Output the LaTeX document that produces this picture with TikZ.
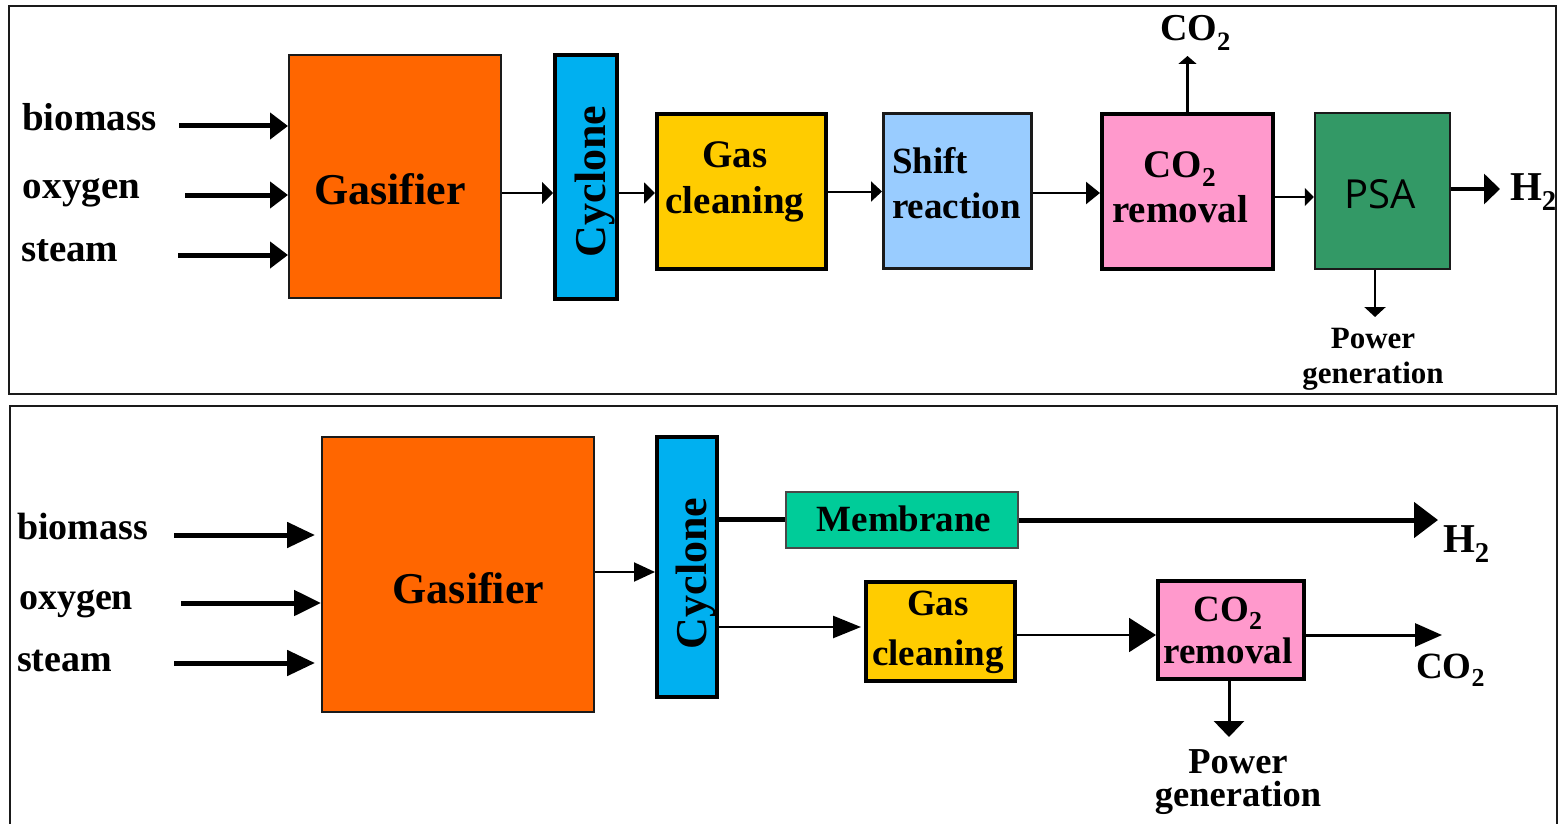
\documentclass[tikz,border=0pt]{standalone}
\usepackage{fontspec}
\setmainfont{Liberation Serif}
\newfontfamily\psafont{Open Sans}
\usetikzlibrary{arrows.meta}

\definecolor{gasorange}{HTML}{FF6600}
\definecolor{cycblue}{HTML}{00B0F0}
\definecolor{cleanyellow}{HTML}{FFCC00}
\definecolor{shiftblue}{HTML}{99CCFF}
\definecolor{co2pink}{HTML}{FF99CC}
\definecolor{psagreen}{HTML}{339966}
\definecolor{memgreen}{HTML}{00CC99}
\definecolor{edge}{HTML}{1A1A1A}

\newcommand\fsz[2]{\fontsize{#1}{#2}\selectfont}

\begin{document}
\begin{tikzpicture}[x=1pt,y=-1pt,
  frame/.style={draw=edge, line width=2pt},
  block/.style={rectangle, draw=#1, inner sep=0pt},
  txt/.style={inner sep=0pt, outer sep=0pt, text=black},
  arr/.style n args={3}{draw=black, line width=#1, -{Triangle[length=#2, width=#3]}},
  plain/.style={draw=black, line width=#1}
]
\useasboundingbox (0,0) rectangle (1560,824);

% ---------- panel frames ----------
\draw[frame] (9,6) rectangle (1556,394);
\draw[frame] (10,830) -- (10,406) -- (1557,406) -- (1557,830);

% ================= upper process chain =================
\node[block=edge, line width=2pt, fill=gasorange, minimum width=212pt, minimum height=243pt] (gas1) at (395,176.5) {};
\node[block=black, line width=4pt, fill=cycblue, minimum width=62pt, minimum height=244pt] (cyc1) at (586,177) {};
\node[block=black, line width=4pt, fill=cleanyellow, minimum width=169pt, minimum height=155pt] (gc1) at (741.5,191.5) {};
\node[block=edge, line width=3pt, fill=shiftblue, minimum width=148pt, minimum height=155pt] (sh1) at (957.5,191) {};
\node[block=black, line width=4pt, fill=co2pink, minimum width=171pt, minimum height=155pt] (co2r1) at (1187.5,191.5) {};
\node[block=edge, line width=2.5pt, fill=psagreen, minimum width=135pt, minimum height=156pt] (psa) at (1382.5,191) {};

% block captions (multi-line captions are anchored on their last baseline)
\node[txt, font=\fsz{44}{48}\bfseries, anchor=base] (tgas1) at (390,204) {Gasifier};
\node[txt, font=\fsz{44}{48}\bfseries, rotate=90, anchor=base] (tcyc1) at (605,181.5) {Cyclone};
\node[txt, font=\fsz{39}{46}\bfseries, align=center, anchor=base] (tgc1) at (735,213) {Gas\\cleaning};
\node[txt, font=\fsz{37}{45}\bfseries, align=left, anchor=base west] (tsh1) at (892,218) {Shift\\reaction};
\node[txt, font=\fsz{39}{45}\bfseries, align=center, anchor=base] (tco2r1) at (1180,222) {CO\textsubscript{2}\\removal};
\node[txt, font=\fsz{40}{44}\psafont, text=black, anchor=base] (tpsa) at (1380,208) {PSA};

% feed labels
\node[txt, font=\fsz{39}{46}\bfseries, anchor=base west] (bio1) at (22,131) {biomass};
\node[txt, font=\fsz{39}{46}\bfseries, anchor=base west] (oxy1) at (23,198) {oxygen};
\node[txt, font=\fsz{39}{46}\bfseries, anchor=base west] (stm1) at (21,261) {steam};

% feed arrows
\coordinate (bio1s) at (179,126);
\coordinate (oxy1s) at (185,195);
\coordinate (stm1s) at (178,255);
\draw[arr={5pt}{18pt}{26pt}] (bio1s) -- (bio1s -| gas1.west);
\draw[arr={5pt}{18pt}{26pt}] (oxy1s) -- (oxy1s -| gas1.west);
\draw[arr={5pt}{18pt}{26pt}] (stm1s) -- (stm1s -| gas1.west);

% chain connectors
\draw[arr={2pt}{11pt}{22pt}] ([yshift=-16.5pt]gas1.east) coordinate (g1o) -- (g1o -| cyc1.west);
\draw[arr={2pt}{11pt}{21pt}] ([yshift=-16pt]cyc1.east) coordinate (c1o) -- (c1o -| gc1.west);
\draw[arr={2pt}{11pt}{20pt}] (gc1.east) -- (gc1.east -| sh1.west);
\draw[arr={2.5pt}{14pt}{22pt}] ([yshift=-2pt]sh1.east) coordinate (s1o) -- (s1o -| co2r1.west);
\draw[arr={2pt}{9pt}{18pt}] ([yshift=-5.5pt]co2r1.east) coordinate (r1o) -- (r1o -| psa.west);

% products
\coordinate (co2tip) at (1187,56);
\draw[arr={3pt}{8pt}{18pt}] (co2r1.north) -- (co2r1.north |- co2tip);
\node[txt, font=\fsz{38}{44}\bfseries, anchor=base west] (co2top) at (1160,41) {CO\textsubscript{2}};

\coordinate (h2tip) at (1500,189);
\draw[arr={3.5pt}{16pt}{30pt}] ([yshift=2pt]psa.east) -- (h2tip);
\node[txt, font=\fsz{41}{46}\bfseries, anchor=base west] (h2top) at (1510,200) {H\textsubscript{2}};

\coordinate (pw1tip) at (1375,317);
\draw[arr={2.5pt}{10pt}{21pt}] ([xshift=-7.5pt]psa.south) -- (pw1tip);
\node[txt, font=\fsz{31}{35}\bfseries, align=center, anchor=base] (pw1) at (1373,383) {Power\\generation};

% ================= lower process chain =================
\node[block=edge, line width=2pt, fill=gasorange, minimum width=272pt, minimum height=275pt] (gas2) at (458,574.5) {};
\node[block=black, line width=4pt, fill=cycblue, minimum width=60pt, minimum height=260pt] (cyc2) at (687,567) {};
\node[block=edge!80, line width=2.5pt, fill=memgreen, minimum width=232pt, minimum height=56pt] (mem) at (902,520) {};
\node[block=black, line width=4pt, fill=cleanyellow, minimum width=149pt, minimum height=99pt] (gc2) at (940.5,631.5) {};
\node[block=black, line width=4pt, fill=co2pink, minimum width=146pt, minimum height=98pt] (co2r2) at (1231,630) {};

\node[txt, font=\fsz{44}{48}\bfseries, anchor=base] (tgas2) at (468.5,603) {Gasifier};
\node[txt, font=\fsz{44}{48}\bfseries, rotate=90, anchor=base] (tcyc2) at (706,573.5) {Cyclone};
\node[txt, font=\fsz{37}{42}\bfseries, anchor=base] (tmem) at (904,531) {Membrane};
\node[txt, font=\fsz{37}{50}\bfseries, align=center, anchor=base] (tgc2) at (938,665) {Gas\\cleaning};
\node[txt, font=\fsz{37}{42}\bfseries, align=center, anchor=base] (tco2r2) at (1228,663) {CO\textsubscript{2}\\removal};

\node[txt, font=\fsz{38}{46}\bfseries, anchor=base west] (bio2) at (17,539) {biomass};
\node[txt, font=\fsz{38}{46}\bfseries, anchor=base west] (oxy2) at (19,609) {oxygen};
\node[txt, font=\fsz{38}{46}\bfseries, anchor=base west] (stm2) at (17,671) {steam};

\coordinate (bio2s) at (174,535);
\coordinate (oxy2s) at (181,603);
\coordinate (stm2s) at (174,663);
\coordinate (gas2in) at ([xshift=-6pt]gas2.west);
\draw[arr={5pt}{28pt}{25pt}] (bio2s) -- (bio2s -| gas2in);
\draw[arr={5pt}{27pt}{25pt}] (oxy2s) -- (oxy2s -| gas2.west);
\draw[arr={5pt}{28pt}{25pt}] (stm2s) -- (stm2s -| gas2in);

\draw[arr={2pt}{21pt}{19pt}] ([yshift=2.5pt]gas2.east) coordinate (g2o) -- (g2o -| cyc2.west);
\draw[plain=5pt] ([yshift=48pt]cyc2.east) coordinate (c2m) -- (c2m -| mem.west);
\coordinate (h2btip) at (1438,520);
\draw[arr={5pt}{24pt}{35pt}] (mem.east) -- (h2btip);
\node[txt, font=\fsz{41}{46}\bfseries, anchor=base west] (h2bot) at (1443,552) {H\textsubscript{2}};

\coordinate (gc2in) at ([xshift=-3pt]gc2.west);
\draw[arr={2.5pt}{28pt}{22pt}] ([yshift=-60pt]cyc2.east) coordinate (c2g) -- (c2g -| gc2in);
\draw[arr={2pt}{27pt}{34pt}] ([yshift=-3.5pt]gc2.east) coordinate (g2r) -- (g2r -| co2r2.west);

\coordinate (co2btip) at (1442,635);
\draw[arr={3pt}{27pt}{23pt}] ([yshift=-5pt]co2r2.east) -- (co2btip);
\node[txt, font=\fsz{37}{44}\bfseries, anchor=base west] (co2bot) at (1416,678) {CO\textsubscript{2}};

\coordinate (pw2tip) at (1229,737);
\draw[arr={3pt}{16pt}{30pt}] ([xshift=-2pt]co2r2.south) -- (pw2tip);
\node[txt, font=\fsz{36.5}{33}\bfseries, align=center, anchor=base] (pw2) at (1238,806) {Power\\generation};

\end{tikzpicture}
\end{document}
